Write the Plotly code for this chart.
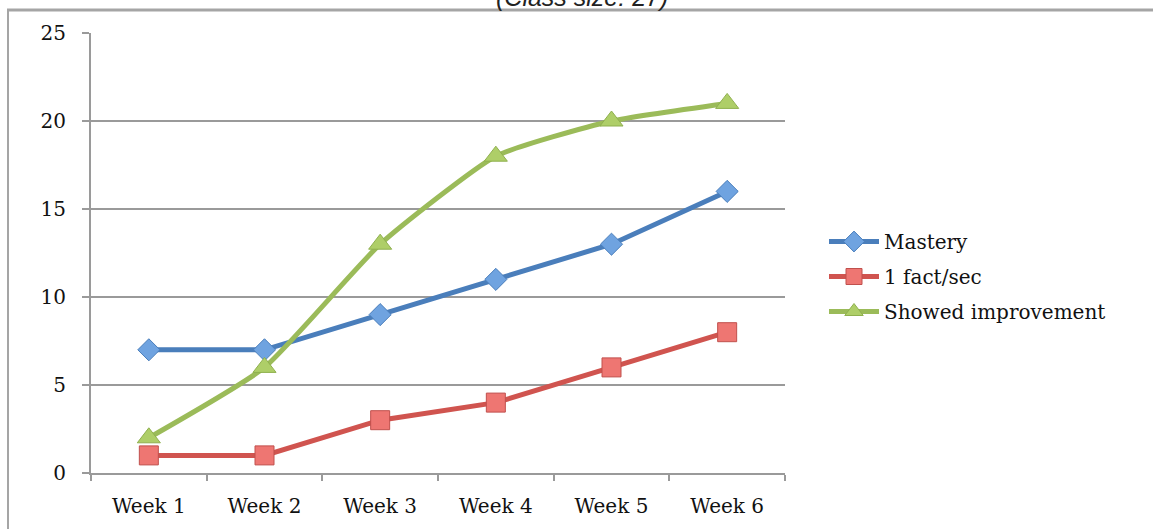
import plotly.graph_objects as go

weeks = ["Week 1", "Week 2", "Week 3", "Week 4", "Week 5", "Week 6"]
mastery = [7, 7, 9, 11, 13, 16]
fact_per_sec = [1, 1, 3, 4, 6, 8]
showed_improvement = [2, 6, 13, 18, 20, 21]

W, H = 1153, 529
L, R, T, B = 91, 785, 33, 473
pw, ph = R - L, B - T

def px(x):
    return (x - L) / pw

def py(y):
    return (B - y) / ph

serif = "DejaVu Serif"

fig = go.Figure()
fig.add_trace(go.Scatter(
    x=weeks, y=mastery, name="Mastery", mode="lines+markers", legendgroup="a",
    line=dict(color="#4A7EBB", width=5),
    marker=dict(symbol="diamond", size=17, color="#6FA3E0", line=dict(color="#4A7EBB", width=1)),
))
fig.add_trace(go.Scatter(
    x=weeks, y=fact_per_sec, name="1 fact/sec", mode="lines+markers", legendgroup="b",
    line=dict(color="#D0544F", width=5),
    marker=dict(symbol="square", size=19, color="#EE7672", line=dict(color="#C0504D", width=1)),
))
fig.add_trace(go.Scatter(
    x=weeks, y=showed_improvement, name="Showed improvement", mode="lines+markers", legendgroup="c",
    line=dict(color="#9BBB59", width=5, shape="spline", smoothing=0.5),
    marker=dict(symbol="triangle-up", size=20, color="#AECE68", line=dict(color="#8FB04E", width=1)),
))

fig.update_layout(
    width=W, height=H,
    margin=dict(l=L, r=W - R, t=T, b=H - B),
    paper_bgcolor="white", plot_bgcolor="white",
    showlegend=True,
    legend=dict(x=px(824), y=py(222), xanchor="left", yanchor="top",
                font=dict(family=serif, size=20, color="#111"),
                tracegroupgap=6, itemwidth=50, bgcolor="rgba(0,0,0,0)"),
    xaxis=dict(type="category", tickson="boundaries", ticks="outside", ticklen=6,
               tickcolor="#9a9a9a", tickwidth=2, showline=True, linecolor="#9a9a9a", linewidth=2,
               showgrid=False, tickfont=dict(family=serif, size=20, color="#111"),
               ticklabelstandoff=14, range=[-0.5, 5.5]),
    yaxis=dict(range=[0, 25], dtick=5, ticks="outside", ticklen=7, tickcolor="#9a9a9a", tickwidth=2,
               showline=True, linecolor="#9a9a9a", linewidth=2,
               showgrid=True, gridcolor="#9a9a9a", gridwidth=2, zeroline=False,
               tickfont=dict(family=serif, size=20, color="#111"), ticklabelstandoff=12),
    annotations=[dict(text="<i>(Class size: 27)</i>", xref="paper", yref="paper",
                      x=px(582), y=py(13), xanchor="center", yanchor="bottom", showarrow=False,
                      font=dict(family="Liberation Sans", size=25, color="#222"))],
    shapes=[
        dict(type="line", xref="paper", yref="paper", x0=px(7), x1=px(1153), y0=py(10), y1=py(10),
             line=dict(color="#a5a5a5", width=3), layer="above"),
        dict(type="line", xref="paper", yref="paper", x0=px(8), x1=px(8), y0=py(9), y1=py(540),
             line=dict(color="#a5a5a5", width=2), layer="above"),
    ],
)

fig.write_html("out.html")
